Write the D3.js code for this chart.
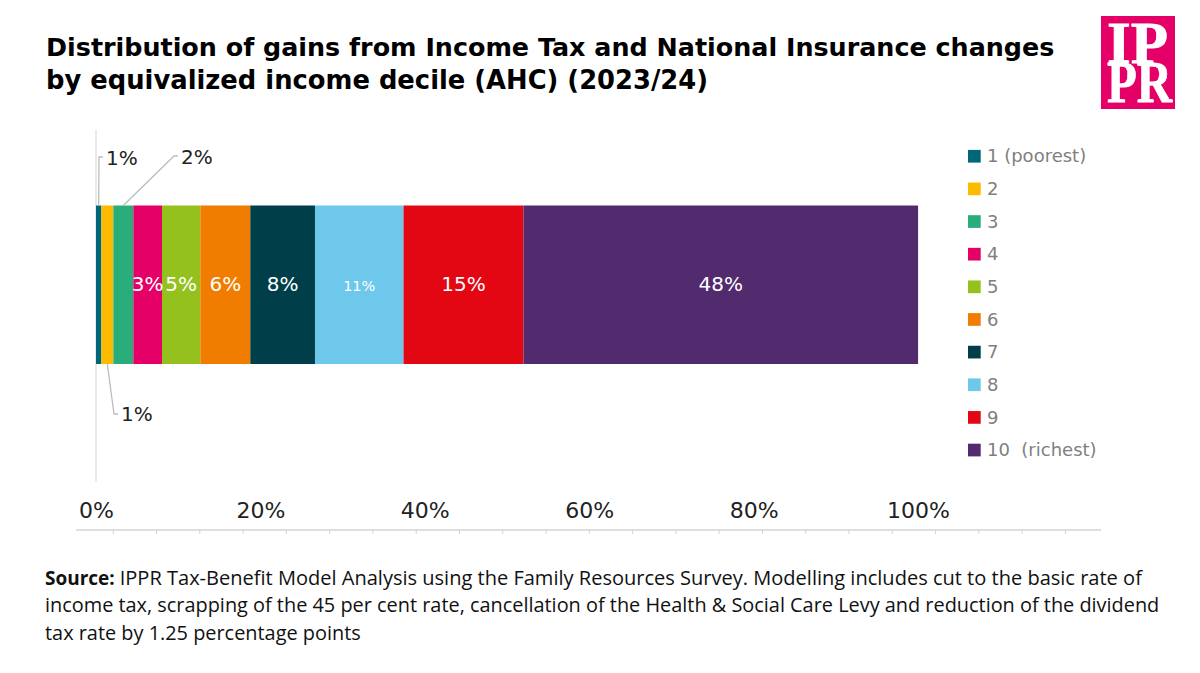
<!DOCTYPE html>
<html>
<head>
<meta charset="utf-8">
<script src="https://cdnjs.cloudflare.com/ajax/libs/d3/7.8.5/d3.min.js"></script>
<style>
  html, body { margin: 0; padding: 0; background: #fff; }
  svg { display: block; }
  text { font-family: "DejaVu Sans", sans-serif; }
</style>
</head>
<body>
<div id="chart"></div>
<script>
// values
var deciles = ["1 (poorest)", "2", "3", "4", "5", "6", "7", "8", "9", "10  (richest)"];
var shares = [0.65, 1.46, 2.43, 3.49, 4.66, 6.08, 7.87, 10.77, 14.6, 48.0];
var shareLabels = ["1%", "1%", "2%", "3%", "5%", "6%", "8%", "11%", "15%", "48%"];
var colors = ["#00677a", "#fdbb00", "#29ad7a", "#e50068", "#95c11f", "#f07d00", "#003f4a", "#6ec8ec", "#e30613", "#522a6e"];
var axisTicks = [0, 20, 40, 60, 80, 100];
var titleLines = ["Distribution of gains from Income Tax and National Insurance changes", "by equivalized income decile (AHC) (2023/24)"];

var width = 1200, height = 673;
var svg = d3.select("#chart").append("svg").attr("width", width).attr("height", height);

var x = d3.scaleLinear().domain([0, 100]).range([96, 918]);
var y = d3.scaleBand().domain(["all"]).range([205.5, 364]);
var legendY = d3.scalePoint().domain(deciles).range([156.2, 450]);

// title
svg.append("g").selectAll("text").data(titleLines).enter().append("text")
    .attr("x", 46)
    .attr("y", function(d, i) { return 56 + i * 33; })
    .style("font-size", function(d, i) { return i == 0 ? "25.4px" : "25.8px"; })
    .style("font-weight", "bold")
    .style("fill", "#000")
    .text(function(d) { return d; });

// logo
var logo = svg.append("g");
logo.append("rect").attr("x", 1101).attr("y", 16).attr("width", 74).attr("height", 93).attr("fill", "#e50068");
logo.selectAll("text").data([["IP", 1107, 63, 61], ["PR", 1107, 102, 65]]).enter().append("text")
    .attr("x", function(d) { return d[1]; })
    .attr("y", function(d) { return d[2]; })
    .attr("textLength", function(d) { return d[3]; })
    .attr("lengthAdjust", "spacingAndGlyphs")
    .style("font-family", "'Liberation Serif', serif")
    .style("font-weight", "bold")
    .style("font-size", "60px")
    .style("fill", "#fff")
    .style("stroke", "#fff")
    .style("stroke-width", 0.8)
    .text(function(d) { return d[0]; });

// vertical axis line
svg.append("line").attr("x1", x(0)).attr("x2", x(0)).attr("y1", 130).attr("y2", 482)
    .attr("stroke", "#e3e3e3").attr("stroke-width", 1.5);

// stacked bar
var start = 0;
var segments = shares.map(function(s, i) {
  var seg = {i: i, x0: start, x1: start + s, label: shareLabels[i]};
  start += s;
  return seg;
});

svg.append("g").selectAll("rect").data(segments).enter().append("rect")
    .attr("x", function(d) { return x(d.x0); })
    .attr("y", y("all"))
    .attr("width", function(d) { return x(d.x1) - x(d.x0); })
    .attr("height", y.bandwidth())
    .attr("fill", function(d) { return colors[d.i]; });

// labels inside the bar
svg.append("g").selectAll("text").data(segments.slice(3)).enter().append("text")
    .attr("x", function(d) { return (x(d.x0) + x(d.x1)) / 2; })
    .attr("y", 291)
    .attr("text-anchor", "middle")
    .style("font-size", function(d) { return d.label == "11%" ? "14.5px" : "20px"; })
    .style("fill", "#fff")
    .text(function(d) { return d.label; });

// leader lines for the three thin segments
var callouts = [
  {i: 0, top: true, bendX: 99, bendY: 157, endX: 103, tx: 106, ty: 165},
  {i: 2, top: true, bendX: 174, bendY: 156, endX: 178, tx: 181, ty: 164},
  {i: 1, top: false, bendX: 114, bendY: 414, endX: 118, tx: 121, ty: 421}
];
callouts.forEach(function(c) {
  var seg = segments[c.i];
  var px = (x(seg.x0) + x(seg.x1)) / 2;
  var py = c.top ? y("all") : y("all") + y.bandwidth();
  svg.append("path")
      .attr("d", d3.line()([[px, py], [c.bendX, c.bendY], [c.endX, c.bendY]]))
      .attr("fill", "none")
      .attr("stroke", "#bdbdbd")
      .attr("stroke-width", 1.3);
  svg.append("text").attr("x", c.tx).attr("y", c.ty)
      .style("font-size", "20px")
      .style("fill", "#222")
      .text(seg.label);
});

// x axis
var axis = d3.axisBottom(x).tickValues(axisTicks).tickSize(0).tickPadding(0)
    .tickFormat(function(d) { return d + "%"; });
var axisG = svg.append("g").attr("transform", "translate(0,518)").call(axis);
axisG.select(".domain").remove();
axisG.selectAll("text")
    .attr("dy", 0)
    .attr("y", 0)
    .style("font-family", "'DejaVu Sans', sans-serif")
    .style("font-size", "22px")
    .style("fill", "#222");

// baseline with its small ticks, which do not line up with the labels
var minorStep = 5.265;
var minorTicks = d3.range(2.1, 122, minorStep);
svg.append("line").attr("x1", 76).attr("x2", 1101).attr("y1", 530).attr("y2", 530)
    .attr("stroke", "#d4d4d4").attr("stroke-width", 1.6);
svg.append("g").selectAll("line").data(minorTicks).enter().append("line")
    .attr("x1", function(d) { return x(d); })
    .attr("x2", function(d) { return x(d); })
    .attr("y1", 530).attr("y2", 534)
    .attr("stroke", "#d4d4d4").attr("stroke-width", 1);

// legend
var legend = svg.append("g").selectAll("g").data(deciles).enter().append("g")
    .attr("transform", function(d) { return "translate(968," + legendY(d) + ")"; });
legend.append("rect").attr("x", 0).attr("y", -6.3).attr("width", 12.7).attr("height", 12.7)
    .attr("fill", function(d, i) { return colors[i]; });
legend.append("text").attr("x", 19).attr("y", 6.2)
    .style("font-size", "18px")
    .style("fill", "#7f7f7f")
    .style("white-space", "pre")
    .text(function(d) { return d; });

// source note
var note = svg.append("text")
    .style("font-family", "'Open Sans', sans-serif")
    .style("font-size", "19.9px")
    .style("fill", "#111");
var noteLines = [
  "IPPR Tax-Benefit Model Analysis using the Family Resources Survey. Modelling includes cut to the basic rate of",
  "income tax, scrapping of the 45 per cent rate, cancellation of the Health & Social Care Levy and reduction of the dividend",
  "tax rate by 1.25 percentage points"
];
noteLines.forEach(function(line, i) {
  var t = note.append("tspan").attr("x", 45).attr("y", 584.5 + i * 27.5);
  if (i == 0) {
    t.append("tspan").style("font-weight", "bold").style("font-size", "19px").text("Source: ");
  }
  t.append("tspan").style("font-size", i == 0 ? "20.05px" : null).text(line);
});
</script>
</body>
</html>
